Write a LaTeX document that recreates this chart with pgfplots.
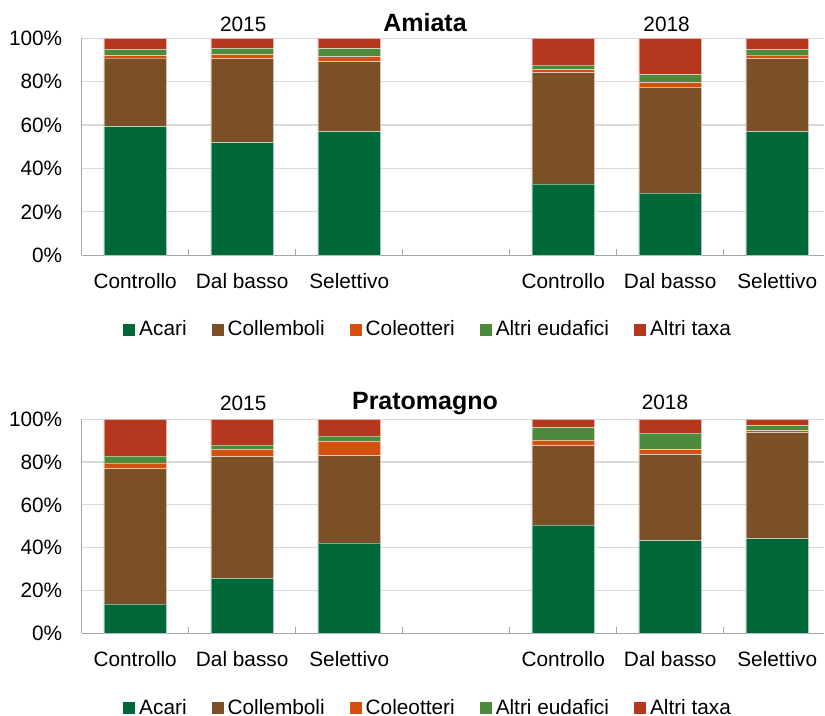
\documentclass[border=0pt]{standalone}
\usepackage{pgfplots}
\pgfplotsset{compat=1.18}
\usepackage{pgfplotstable}
\usepackage{fontspec}
\setmainfont{Liberation Sans}
\definecolor{cAcari}{HTML}{006837}
\definecolor{cColl}{HTML}{7C5026}
\definecolor{cCole}{HTML}{D4500F}
\definecolor{cEud}{HTML}{4E8A3C}
\definecolor{cTaxa}{HTML}{B4371E}
\definecolor{gridc}{HTML}{D9D9D9}
\definecolor{axc}{HTML}{A6A6A6}

\pgfplotstableread{
x acari coll cole eud taxa
0 59.3 31.6 1.1 2.9 5.1
1 51.9 38.7 1.9 2.9 4.6
2 57.0 32.2 2.4 3.6 4.8
4 32.9 51.3 1.4 2.1 12.3
5 28.6 48.8 2.2 3.7 16.7
6 57.0 33.6 1.7 2.6 5.1
}\amiata

\pgfplotstableread{
x acari coll cole eud taxa
0 13.6 63.3 2.7 3.3 17.1
1 25.7 56.9 3.4 2.0 12.0
2 42.2 40.8 6.7 2.5 7.8
4 50.5 37.2 2.5 5.9 3.9
5 43.3 40.2 2.3 7.7 6.5
6 44.2 49.6 0.9 2.5 2.8
}\prato

\pgfplotsset{
  mychart/.style={
    anchor=north west,
    scale only axis,
    width=371.15pt,
    ybar stacked,
    bar width=31.35pt,
    xmin=-0.5, xmax=6.437,
    ymin=0, ymax=100,
    axis x line*=bottom,
    axis y line*=left,
    axis line style={draw=axc, line width=0.6pt},
    tick align=inside,
    xtick={0.5,1.5,2.5,3.5,4.5,5.5},
    xticklabels={},
    x tick style={draw=axc, line width=0.6pt},
    major tick length=3pt,
    extra x ticks={0,1,2,4,5,6},
    extra x tick labels={Controllo,Dal basso,Selettivo,Controllo,Dal basso,Selettivo},
    extra x tick style={major tick length=0pt, xticklabel style={yshift=-5.5pt}},
    ytick={0,20,40,60,80,100},
    yticklabel={\pgfmathprintnumber{\tick}\%},
    y tick style={draw=none},
    yticklabel style={xshift=-6.2pt},
    ymajorgrids,
    grid style={draw=gridc, line width=0.6pt},
    /pgf/number format/assume math mode=true,
    tick label style={font=\fontsize{10.4}{12}\selectfont},
    every axis plot/.append style={draw=white, draw opacity=0.45, line width=0.3pt},
    legend columns=5,
    legend style={draw=none, fill=none, font=\fontsize{10.4}{12}\selectfont,
      anchor=center, inner sep=0pt,
      /tikz/every even column/.append style={column sep=10.5pt},
      nodes={inner xsep=2pt, inner ysep=1pt}},
    legend image code/.code={\fill[##1, draw=none] (0pt,-3pt) rectangle (6pt,3pt);},
  }
}

\begin{document}
\begin{tikzpicture}
\useasboundingbox (0,0) rectangle (412.5pt,-358pt);

\begin{axis}[mychart, at={(40.85pt,-19.15pt)}, height=108.5pt,
  legend style={at={(0.468,-0.344)}}]
\addplot[fill=cAcari] table[x=x,y=acari]{\amiata};
\addplot[fill=cColl] table[x=x,y=coll]{\amiata};
\addplot[fill=cCole] table[x=x,y=cole]{\amiata};
\addplot[fill=cEud] table[x=x,y=eud]{\amiata};
\addplot[fill=cTaxa] table[x=x,y=taxa]{\amiata};
\legend{Acari,Collemboli,Coleotteri,Altri eudafici,Altri taxa}
\end{axis}

\begin{axis}[mychart, at={(40.85pt,-209.65pt)}, height=107pt,
  legend style={at={(0.468,-0.349)}}]
\addplot[fill=cAcari] table[x=x,y=acari]{\prato};
\addplot[fill=cColl] table[x=x,y=coll]{\prato};
\addplot[fill=cCole] table[x=x,y=cole]{\prato};
\addplot[fill=cEud] table[x=x,y=eud]{\prato};
\addplot[fill=cTaxa] table[x=x,y=taxa]{\prato};
\legend{Acari,Collemboli,Coleotteri,Altri eudafici,Altri taxa}
\end{axis}

\node[anchor=base, font=\bfseries\fontsize{12.5}{14}\selectfont] at (212.5pt,-15.85pt) {Amiata};
\node[anchor=base, font=\fontsize{10.4}{12}\selectfont] at (121.6pt,-15.85pt) {2015};
\node[anchor=base, font=\fontsize{10.4}{12}\selectfont] at (333.3pt,-15.85pt) {2018};
\node[anchor=base, font=\bfseries\fontsize{12.5}{14}\selectfont] at (212.5pt,-205pt) {Pratomagno};
\node[anchor=base, font=\fontsize{10.4}{12}\selectfont] at (121.6pt,-205.2pt) {2015};
\node[anchor=base, font=\fontsize{10.4}{12}\selectfont] at (332.5pt,-204.8pt) {2018};
\end{tikzpicture}
\end{document}
